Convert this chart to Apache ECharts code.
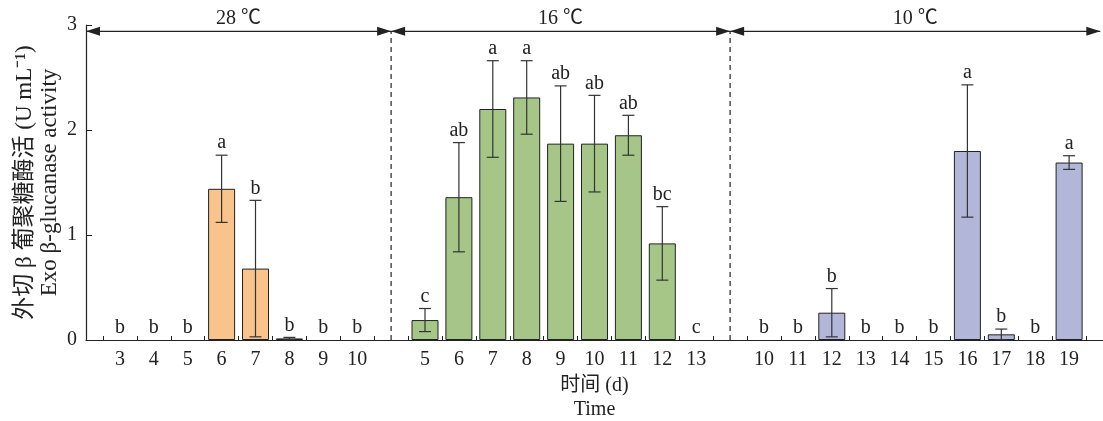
<!DOCTYPE html>
<html><head><meta charset="utf-8">
<script src="https://cdn.jsdelivr.net/npm/echarts@6/dist/echarts.min.js"></script>
<style>html,body{margin:0;padding:0;background:#fff}#c{width:1103px;height:421px}</style>
</head><body><div id="c"></div>
<script>
// ---- data ----
const groupNames = ['28 ℃', '16 ℃', '10 ℃'];
const days28 = ['3','4','5','6','7','8','9','10'];
const mean28 = [0, 0, 0, 1.44, 0.68, 0.015, 0, 0];
const sd28   = [0, 0, 0, 0.32, 0.65, 0.01, 0, 0];
const letters28 = ['b','b','b','a','b','b','b','b'];
const days16 = ['5','6','7','8','9','10','11','12','13'];
const mean16 = [0.19, 1.36, 2.20, 2.31, 1.87, 1.87, 1.95, 0.92, 0];
const sd16   = [0.11, 0.52, 0.46, 0.35, 0.55, 0.46, 0.19, 0.35, 0];
const letters16 = ['c','ab','a','a','ab','ab','ab','bc','c'];
const days10 = ['10','11','12','13','14','15','16','17','18','19'];
const mean10 = [0, 0, 0.26, 0, 0, 0, 1.80, 0.054, 0, 1.69];
const sd10   = [0, 0, 0.23, 0, 0, 0, 0.63, 0.05, 0, 0.065];
const letters10 = ['b','b','b','b','b','b','a','b','b','a'];
const yTicks = [0, 1, 2, 3];
const yName = '外切 β 葡聚糖酶活 (U mL⁻¹)\nExo β-glucanase activity';
const xName = '时间 (d)\nTime';

// ---- styles ----
const colors = ['#F8C48B', '#A6C688', '#B2B7D9'];
const FONT = '"Liberation Serif", "Noto Sans CJK SC", serif';
const INK = '#222';

// ---- build positions ----
const groups = [
  {days: days28, mean: mean28, sd: sd28, letters: letters28},
  {days: days16, mean: mean16, sd: sd16, letters: letters16},
  {days: days10, mean: mean10, sd: sd10, letters: letters10}
];
let pos = 0;
const labelMap = {};
const labelPos = [];
const dividers = [];
const barData = [];
const errData = [];
const errLetters = [];
groups.forEach((g, gi) => {
  g.days.forEach((d, i) => {
    const x = pos++;
    labelMap[x] = d;
    labelPos.push(x);
    if (g.mean[i] > 0) barData.push({value: [x, g.mean[i]], itemStyle: {color: colors[gi]}});
    errData.push([x, g.mean[i], g.sd[i]]);
    errLetters.push(g.letters[i]);
  });
  if (gi < groups.length - 1) dividers.push(pos++);
});
const xMin = -1, xMax = pos;
const tickPos = [];
for (let k = 0; k <= pos; k++) tickPos.push(k - 0.5);
const segs = groupNames.map((n, i) => [
  i === 0 ? xMin : dividers[i - 1],
  i === groupNames.length - 1 ? xMax - 0.08 : dividers[i],
  i
]);
const ARROW_Y = 2.94;

const chart = echarts.init(document.getElementById('c'));
chart.setOption({
  animation: false,
  backgroundColor: '#fff',
  grid: {left: 86, right: 0, top: 25, bottom: 81, containLabel: false, outerBoundsMode: 'none'},
  xAxis: {
    type: 'value', min: xMin, max: xMax,
    splitLine: {show: false},
    axisLine: {show: true, onZero: false, lineStyle: {color: INK, width: 1.2}},
    axisTick: {show: true, inside: true, length: 4, customValues: tickPos, lineStyle: {color: INK}},
    axisLabel: {customValues: labelPos, formatter: v => labelMap[Math.round(v)] || '',
      fontFamily: FONT, fontSize: 20, color: INK, margin: 10},
    name: xName, nameLocation: 'middle', nameGap: 34, nameMoveOverlap: false,
    nameTextStyle: {fontFamily: FONT, fontSize: 20, color: INK, lineHeight: 24}
  },
  yAxis: {
    type: 'value', min: yTicks[0], max: yTicks[yTicks.length - 1], interval: 1,
    splitLine: {show: false},
    axisLine: {show: true, onZero: false, lineStyle: {color: INK, width: 1.2}},
    axisTick: {show: true, inside: true, length: 6, lineStyle: {color: INK}},
    axisLabel: {fontFamily: FONT, fontSize: 20, color: INK, margin: 9},
    name: yName, nameLocation: 'middle', nameRotate: 90, nameGap: 24, nameMoveOverlap: false,
    nameTextStyle: {fontFamily: FONT, fontSize: 23, color: INK, lineHeight: 25}
  },
  series: [
    {
      type: 'bar', data: barData, barWidth: 27,
      itemStyle: {borderColor: INK, borderWidth: 1}
    },
    {
      type: 'custom', data: errData, z: 5,
      renderItem(params, api) {
        const x = api.value(0), m = api.value(1), s = api.value(2);
        const top = api.coord([x, m + s]);
        const bot = api.coord([x, Math.max(m - s, 0)]);
        const ch = [];
        const ls = {stroke: '#333', lineWidth: 1.2};
        if (s > 0) {
          ch.push({type: 'line', shape: {x1: top[0], y1: top[1], x2: bot[0], y2: bot[1]}, style: ls});
          ch.push({type: 'line', shape: {x1: top[0] - 6, y1: top[1], x2: top[0] + 6, y2: top[1]}, style: ls});
          ch.push({type: 'line', shape: {x1: bot[0] - 6, y1: bot[1], x2: bot[0] + 6, y2: bot[1]}, style: ls});
        }
        ch.push({type: 'text', style: {text: errLetters[params.dataIndex], x: top[0], y: top[1] - 2,
          align: 'center', verticalAlign: 'bottom', textAlign: 'center', textVerticalAlign: 'bottom',
          fontFamily: FONT, fontSize: 20, fill: INK}});
        return {type: 'group', children: ch};
      }
    },
    {
      type: 'custom', data: dividers.map(d => [d]), z: 3,
      renderItem(params, api) {
        const a = api.coord([api.value(0), 0]);
        const b = api.coord([api.value(0), ARROW_Y]);
        return {type: 'line', shape: {x1: a[0], y1: a[1], x2: b[0], y2: b[1]},
          style: {stroke: INK, lineWidth: 1.2, lineDash: [5, 4]}};
      }
    },
    {
      type: 'custom', data: segs, z: 6,
      renderItem(params, api) {
        const p1 = api.coord([api.value(0), ARROW_Y]);
        const p2 = api.coord([api.value(1), ARROW_Y]);
        const y = p1[1], L = 14, H = 4.5;
        return {type: 'group', children: [
          {type: 'line', shape: {x1: p1[0], y1: y, x2: p2[0], y2: y}, style: {stroke: INK, lineWidth: 1.3}},
          {type: 'polygon', shape: {points: [[p1[0], y], [p1[0] + L, y - H], [p1[0] + L, y + H]]}, style: {fill: INK}},
          {type: 'polygon', shape: {points: [[p2[0], y], [p2[0] - L, y - H], [p2[0] - L, y + H]]}, style: {fill: INK}},
          {type: 'text', style: {text: groupNames[params.dataIndex], x: (p1[0] + p2[0]) / 2, y: y - 13,
            align: 'center', verticalAlign: 'middle', textAlign: 'center', textVerticalAlign: 'middle',
            fontFamily: FONT, fontSize: 20, fill: INK}}
        ]};
      }
    }
  ]
});
</script></body></html>
